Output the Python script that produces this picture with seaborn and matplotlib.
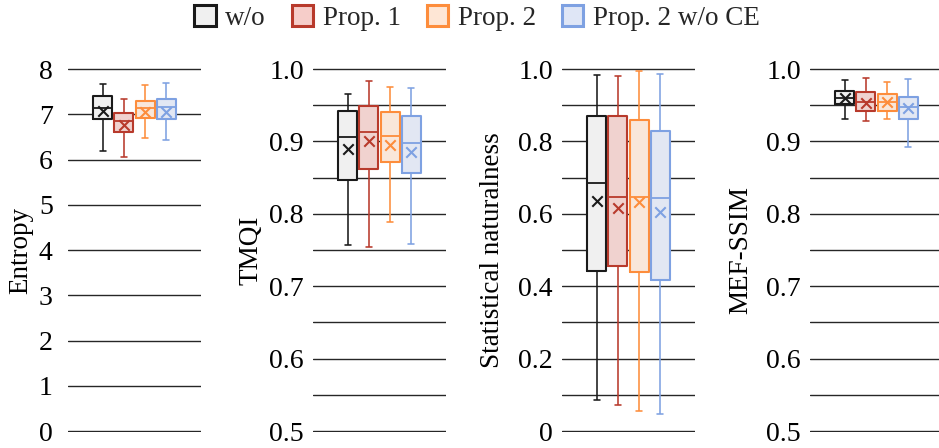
import numpy as np
import pandas as pd
import matplotlib
matplotlib.use("Agg")
import matplotlib.pyplot as plt
import seaborn as sns
from matplotlib.patches import Patch
from matplotlib.ticker import FixedLocator

methods = ["w/o", "Prop. 1", "Prop. 2", "Prop. 2 w/o CE"]
edge_colors = ["#1a1a1a", "#b83a2c", "#fd8d3c", "#7ea1e2"]
face_colors = ["#f0f0f0", "#f6cdc9", "#fee6d5", "#dfe6f6"]

metrics = ["Entropy", "TMQI", "Statistical naturalness", "MEF-SSIM"]

# five-number summaries per method: [min, Q1, median, Q3, max]
entropy_box = [[6.19, 6.895, 7.13, 7.41, 7.676],
               [6.06, 6.615, 6.85, 7.02, 7.34],
               [6.47, 6.92, 7.13, 7.29, 7.65],
               [6.42, 6.895, 7.15, 7.33, 7.68]]
entropy_mean = [7.07, 6.76, 7.06, 7.06]

tmqi_box = [[0.757, 0.8467, 0.9056, 0.9425, 0.965],
            [0.7546, 0.862, 0.9125, 0.949, 0.984],
            [0.789, 0.872, 0.907, 0.940, 0.9756],
            [0.758, 0.857, 0.898, 0.9355, 0.974]]
tmqi_mean = [0.890, 0.901, 0.895, 0.886]

nat_box = [[0.0856, 0.443, 0.684, 0.871, 0.9825],
           [0.072, 0.456, 0.647, 0.869, 0.981],
           [0.056, 0.440, 0.647, 0.858, 0.995],
           [0.047, 0.417, 0.645, 0.828, 0.986]]
nat_mean = [0.634, 0.617, 0.633, 0.606]

mef_box = [[0.931, 0.951, 0.960, 0.970, 0.985],
           [0.928, 0.942, 0.955, 0.968, 0.987],
           [0.931, 0.942, 0.955, 0.9655, 0.9816],
           [0.892, 0.931, 0.948, 0.962, 0.986]]
mef_mean = [0.960, 0.9535, 0.955, 0.9457]

entropy_ticks = [0, 1, 2, 3, 4, 5, 6, 7, 8]
entropy_ticklabels = ["0", "1", "2", "3", "4", "5", "6", "7", "8"]
tmqi_ticks = [0.5, 0.6, 0.7, 0.8, 0.9, 1.0]
tmqi_ticklabels = ["0.5", "0.6", "0.7", "0.8", "0.9", "1.0"]
nat_ticks = [0.0, 0.2, 0.4, 0.6, 0.8, 1.0]
nat_ticklabels = ["0", "0.2", "0.4", "0.6", "0.8", "1.0"]
mef_ticks = [0.5, 0.6, 0.7, 0.8, 0.9, 1.0]
mef_ticklabels = ["0.5", "0.6", "0.7", "0.8", "0.9", "1.0"]

panels = [
    (metrics[0], entropy_box, entropy_mean, (0, 8), entropy_ticks, entropy_ticklabels, None),
    (metrics[1], tmqi_box, tmqi_mean, (0.5, 1.0), tmqi_ticks, tmqi_ticklabels, 0.05),
    (metrics[2], nat_box, nat_mean, (0.0, 1.0), nat_ticks, nat_ticklabels, 0.1),
    (metrics[3], mef_box, mef_mean, (0.5, 1.0), mef_ticks, mef_ticklabels, 0.05),
]

sns.set_theme(style="white")
plt.rcParams["font.family"] = ["Liberation Serif", "DejaVu Serif"]
plt.rcParams["font.size"] = 19.5

W, H = 939, 448
fig = plt.figure(figsize=(W / 100, H / 100), dpi=100)

lefts_px = [68, 313, 562, 810]
width_px = 133
top_px, bot_px = 69, 431
label_off_px = [35, 50, 57, 57]
tick_pads = [11, 6.5, 6.5, 6.5]

for i, (metric, box, means, ylim, ticks, ticklabels, minor) in enumerate(panels):
    marg = 0.004 * (ylim[1] - ylim[0])
    pad_px = (bot_px - top_px) * 0.004
    ax = fig.add_axes([lefts_px[i] / W, (H - bot_px - pad_px) / H,
                       width_px / W, (bot_px - top_px + 2 * pad_px) / H])
    rows = [(metric, m, v) for m, vals in zip(methods, box) for v in vals]
    df = pd.DataFrame(rows, columns=["metric", "method", "value"])
    mdf = pd.DataFrame({"metric": metric, "method": methods, "value": means})

    sns.boxplot(data=df, x="metric", y="value", hue="method", hue_order=methods,
                palette=face_colors, width=0.8, gap=0.1, whis=(0, 100),
                fill=True, linewidth=0, showfliers=False, legend=False, ax=ax)
    sns.boxplot(data=df, x="metric", y="value", hue="method", hue_order=methods,
                palette=edge_colors, width=0.8, gap=0.1, whis=(0, 100),
                fill=False, linewidth=1.15, showfliers=False, legend=False,
                boxprops=dict(linewidth=1.5), medianprops=dict(linewidth=1.3),
                capwidths=0.055, ax=ax)
    sns.stripplot(data=mdf, x="metric", y="value", hue="method", hue_order=methods,
                  palette=edge_colors, dodge=True, jitter=False, marker="x",
                  size=7.5, linewidth=1.5, legend=False, zorder=5, ax=ax)

    ax.set_xlim(-0.63, 0.63)
    ax.set_ylim(ylim[0] - marg, ylim[1] + marg)
    ax.set_xticks([])
    ax.set_xlabel("")
    ax.yaxis.set_major_locator(FixedLocator(ticks))
    ax.set_yticklabels(ticklabels)
    if minor is not None:
        n = int(round((ylim[1] - ylim[0]) / minor))
        ax.yaxis.set_minor_locator(FixedLocator([ylim[0] + k * minor for k in range(n + 1)]))
    ax.grid(True, axis="y", which="both", color="#262626", linewidth=1.0)
    ax.grid(False, axis="x")
    ax.set_axisbelow(True)
    for s in ax.spines.values():
        s.set_visible(False)
    ax.tick_params(axis="y", which="both", length=0, pad=tick_pads[i],
                   labelsize=20, colors="black")
    ax.set_ylabel(metric, fontsize=19.5, color="black")
    ax.yaxis.set_label_coords(-label_off_px[i] / width_px, 0.5)

handles = [Patch(facecolor=fc, edgecolor=ec, linewidth=2.2, label=m)
           for m, fc, ec in zip(methods, face_colors, edge_colors)]
fig.legend(handles=handles, loc="center", bbox_to_anchor=(477 / W, 1 - 18 / H),
           ncol=4, frameon=False, fontsize=19.5, handlelength=0.8, handleheight=0.8,
           handletextpad=0.35, columnspacing=0.95, borderaxespad=0)

fig.savefig("out.png", dpi=100)
